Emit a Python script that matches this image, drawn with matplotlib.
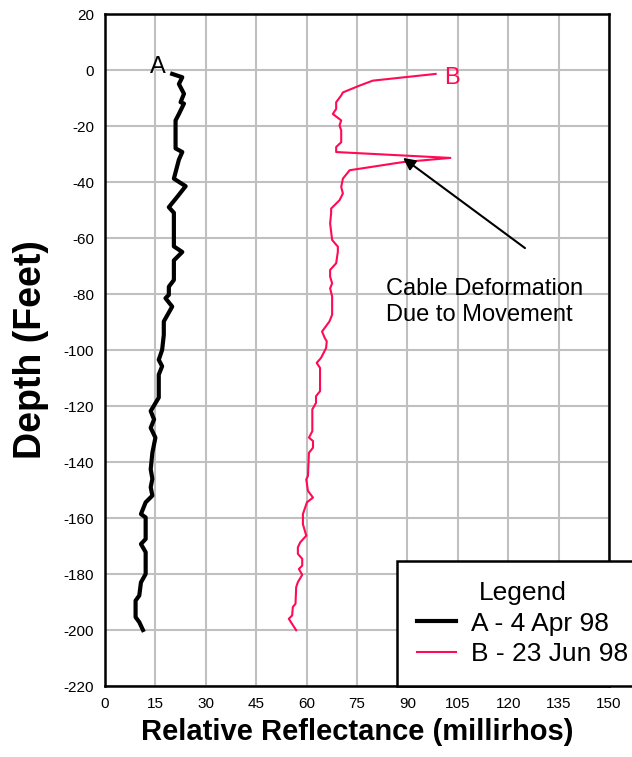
import numpy as np
import matplotlib
matplotlib.use("Agg")
import matplotlib.pyplot as plt

plt.rcParams["font.family"] = ["Liberation Sans", "DejaVu Sans"]
plt.rcParams["axes.unicode_minus"] = False

# curve A - 4 Apr 98 (reflectance, depth)
a_refl = [20.0, 23, 22, 23.5, 22.5, 23.5, 22, 21, 21, 23, 22, 20.5, 24, 21.5, 19, 20.5,
          20.5, 23, 20.5, 20.5, 19, 19, 18, 20, 17.5, 17.5, 17, 16, 17, 16, 16, 13.6,
          14.6, 13.6, 15, 14.1, 13.6, 14.1, 13.6, 14.1, 12.1, 10.7, 12.1, 12.1, 10.7,
          12.1, 12.1, 10.7, 10.2, 9.1, 9.1, 10.2, 11.3]
a_depth = [-1.4, -2.6, -5, -8.5, -11.5, -12, -15.7, -18, -28, -29.3, -32, -38.8, -41.5,
           -45.3, -49, -51, -63, -65, -68, -75, -77.4, -80.3, -81.5, -84.5, -89.8, -94.6,
           -100, -103.5, -105.8, -108.8, -117, -121.8, -124.8, -127.8, -131.3, -136.7,
           -142.6, -146, -149, -152, -154.4, -158.6, -159.8, -167.5, -169.3, -172.2,
           -180, -183, -187.7, -189.5, -195.4, -197.2, -200]

# curve B - 23 Jun 98
b_refl = [98.4, 79.7, 75.7, 70.8, 70.3, 68.8, 68.8, 67.8, 70.3, 69.8, 70.3, 70.3, 68.8,
          68.8, 102.8, 88.6, 72.8, 70.8, 70.3, 70.8, 69.8, 67.3, 67.3, 67.0, 67.6, 69.3,
          69.3, 68.8, 67.0, 67.0, 67.6, 67.0, 67.6, 67.6, 66.8, 64.6, 65.4, 66.0, 65.8,
          64.3, 63.0, 64.0, 64.0, 62.8, 62.8, 61.7, 61.7, 60.7, 61.9, 61.9, 60.7, 60.4,
          59.9, 60.4, 61.9, 60.1, 58.9, 58.9, 59.9, 58.1, 57.4, 57.4, 58.7, 58.7, 57.7,
          58.7, 57.4, 56.9, 56.7, 55.9, 55.7, 54.7, 56.9]
b_depth = [-1.4, -3.8, -5.6, -8, -9.1, -11.5, -13.9, -15.7, -18, -19.8, -21.6, -25.8,
           -27.5, -29.3, -31.4, -32.9, -35.8, -38.8, -41.8, -44.1, -46.5, -49.5, -51.2,
           -54.8, -60.7, -63.1, -64.9, -69, -71.4, -73.8, -76.2, -78, -80.9, -87.4,
           -89.8, -93.4, -95.7, -96.9, -99.3, -102.8, -104.6, -106.4, -114.7, -116.5,
           -118.9, -121.2, -129, -131.3, -132.5, -134.9, -136.7, -145, -146.2, -150.3,
           -152.7, -154.4, -158.6, -162.2, -166.3, -168.7, -170.5, -172.8, -174.6, -177,
           -178.2, -180.3, -182.9, -184.7, -190.6, -191.8, -194.8, -196, -200.1]

x_ticks = np.arange(0, 151, 15)
y_ticks = np.arange(-220, 21, 20)
pink = "#ff0a54"

fig = plt.figure(figsize=(6.32, 7.57), dpi=100)
ax = fig.add_axes([105 / 632, 1 - 686 / 757, 504 / 632, 672 / 757])

ax.plot(a_refl, a_depth, color="black", lw=3, label="A - 4 Apr 98", zorder=3)
ax.plot(b_refl, b_depth, color=pink, lw=1.5, label="B - 23 Jun 98", zorder=3)

ax.set_xlim(0, 150)
ax.set_ylim(-220, 20)
ax.set_xticks(x_ticks)
ax.set_yticks(y_ticks)
ax.tick_params(length=0, labelsize=11, pad=8)
ax.grid(True, color="#c0c0c0", lw=1.5, zorder=0)
for s in ax.spines.values():
    s.set_linewidth(1.8)

ax.set_xlabel("Relative Reflectance (millirhos)", fontsize=21, fontweight="bold", labelpad=5)
ax.set_ylabel("Depth (Feet)", fontsize=27, fontweight="bold", labelpad=10)

ax.text(15.8, 1.1, "A", fontsize=17, ha="center", va="center", zorder=4)
ax.text(103.3, -2.9, "B", fontsize=17, color=pink, ha="center", va="center", zorder=4)

ax.annotate("", xy=(88.7, -31.4), xytext=(125, -63.6),
            arrowprops=dict(arrowstyle="-|>", color="black", lw=1.5,
                            mutation_scale=18, shrinkA=0, shrinkB=0), zorder=4)
ax.text(83.6, -82.9, "Cable Deformation\nDue to Movement", fontsize=17,
        ha="left", va="center", linespacing=1.2, zorder=4)

leg = ax.legend(loc="lower left", bbox_to_anchor=((397 - 105) / 504, 0),
                borderaxespad=0, fontsize=19, title="Legend", title_fontsize=19,
                fancybox=False, edgecolor="black", framealpha=1,
                handlelength=1.5, handletextpad=0.55, borderpad=0.75,
                labelspacing=0.25)
leg.get_frame().set_linewidth(1.8)
leg.set_zorder(5)

fig.savefig("out.png", dpi=100)
